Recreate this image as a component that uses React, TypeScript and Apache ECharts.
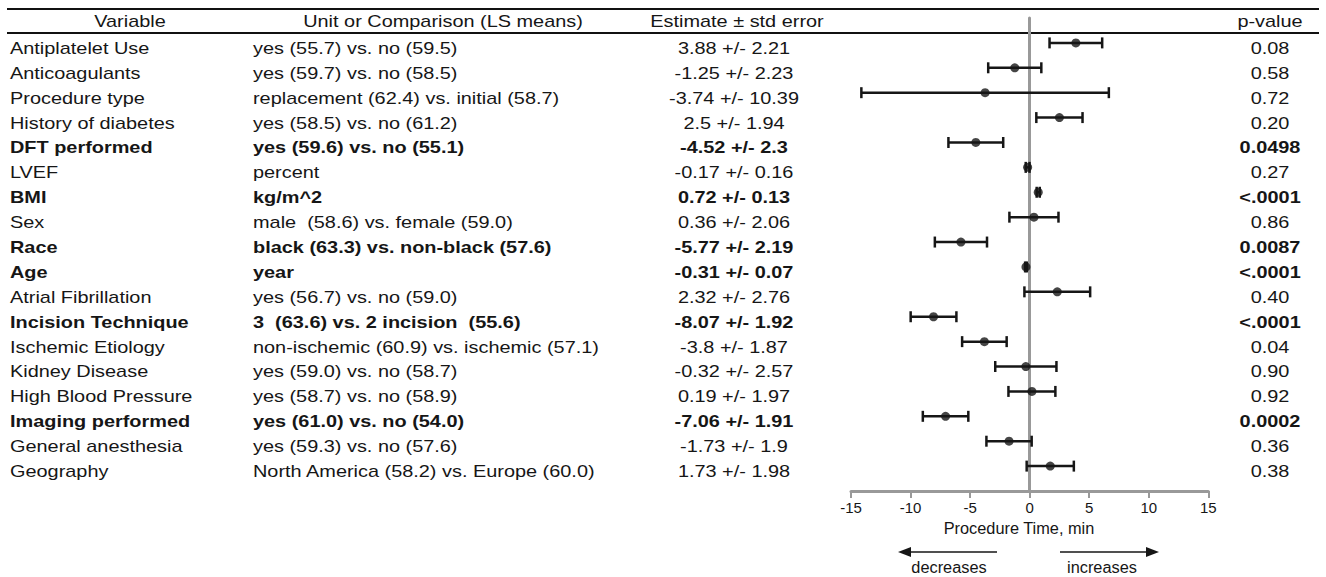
import React, { useEffect, useRef } from "react";
import * as echarts from "echarts";

const headers = ["Variable", "Unit or Comparison (LS means)", "Estimate ± std error", "p-value"];

const variables = [
  "Antiplatelet Use",
  "Anticoagulants",
  "Procedure type",
  "History of diabetes",
  "DFT performed",
  "LVEF",
  "BMI",
  "Sex",
  "Race",
  "Age",
  "Atrial Fibrillation",
  "Incision Technique",
  "Ischemic Etiology",
  "Kidney Disease",
  "High Blood Pressure",
  "Imaging performed",
  "General anesthesia",
  "Geography",
];

const comparisons = [
  "yes (55.7) vs. no (59.5)",
  "yes (59.7) vs. no (58.5)",
  "replacement (62.4) vs. initial (58.7)",
  "yes (58.5) vs. no (61.2)",
  "yes (59.6) vs. no (55.1)",
  "percent",
  "kg/m^2",
  "male  (58.6) vs. female (59.0)",
  "black (63.3) vs. non-black (57.6)",
  "year",
  "yes (56.7) vs. no (59.0)",
  "3  (63.6) vs. 2 incision  (55.6)",
  "non-ischemic (60.9) vs. ischemic (57.1)",
  "yes (59.0) vs. no (58.7)",
  "yes (58.7) vs. no (58.9)",
  "yes (61.0) vs. no (54.0)",
  "yes (59.3) vs. no (57.6)",
  "North America (58.2) vs. Europe (60.0)",
];

const estimates = [3.88, -1.25, -3.74, 2.5, -4.52, -0.17, 0.72, 0.36, -5.77, -0.31, 2.32, -8.07, -3.8, -0.32, 0.19, -7.06, -1.73, 1.73];
const stdErrors = [2.21, 2.23, 10.39, 1.94, 2.3, 0.16, 0.13, 2.06, 2.19, 0.07, 2.76, 1.92, 1.87, 2.57, 1.97, 1.91, 1.9, 1.98];
const pValues = ["0.08", "0.58", "0.72", "0.20", "0.0498", "0.27", "<.0001", "0.86", "0.0087", "<.0001", "0.40", "<.0001", "0.04", "0.90", "0.92", "0.0002", "0.36", "0.38"];
const significant = [false, false, false, false, true, false, true, false, true, true, false, true, false, false, false, true, false, false];

const xMin = -15;
const xMax = 15;
const xInterval = 5;
const axisTitle = "Procedure Time, min";
const directionLabels = ["decreases", "increases"];

const FONT = "'Liberation Sans', Arial, Helvetica, sans-serif";
const INK = "#161616";
const GRAY = "#999999";
const STRETCH = 1.17;

function txt(text: string, x: number, y: number, size: number, bold: boolean, align: string, sx = STRETCH) {
  return {
    type: "text",
    x,
    y,
    scaleX: sx,
    silent: true,
    style: {
      text,
      fill: INK,
      font: `${bold ? "bold " : ""}${size}px ${FONT}`,
      textAlign: align,
      textVerticalAlign: "middle",
    },
  };
}

export default function App() {
  const ref = useRef<HTMLDivElement>(null);

  useEffect(() => {
    document.body.style.margin = "0";
    if (!ref.current) return;
    const chart = echarts.init(ref.current, undefined, { renderer: "svg" });

    const rows = variables.map((_, i) => i);

    const option: any = {
      animation: false,
      backgroundColor: "#ffffff",
      grid: { left: 851, width: 357.3, top: 18, height: 473 },
      xAxis: {
        type: "value",
        min: xMin,
        max: xMax,
        interval: xInterval,
        axisLine: { show: true, onZero: false, lineStyle: { color: GRAY, width: 3 } },
        axisTick: { show: true, length: 7, lineStyle: { color: GRAY, width: 2 } },
        axisLabel: { color: INK, fontSize: 15, fontFamily: FONT, margin: 9 },
        splitLine: { show: false },
      },
      yAxis: {
        type: "value",
        min: -1,
        max: 18,
        inverse: true,
        axisLine: { show: true, onZero: true, lineStyle: { color: GRAY, width: 3 } },
        axisTick: { show: false },
        axisLabel: { show: false },
        splitLine: { show: false },
      },
      series: [
        {
          type: "custom",
          name: "errorbars",
          clip: false,
          silent: true,
          encode: { x: [0, 1], y: 2 },
          data: rows.map((i) => [estimates[i] - stdErrors[i], estimates[i] + stdErrors[i], i]),
          renderItem: (params: any, api: any) => {
            const lo = api.coord([api.value(0), api.value(2)]);
            const hi = api.coord([api.value(1), api.value(2)]);
            const y = lo[1];
            const cap = 5.5;
            const st = { stroke: INK, lineWidth: 2.5, fill: "none" };
            return {
              type: "group",
              children: [
                { type: "line", shape: { x1: lo[0], y1: y, x2: hi[0], y2: y }, style: st },
                { type: "line", shape: { x1: lo[0], y1: y - cap, x2: lo[0], y2: y + cap }, style: st },
                { type: "line", shape: { x1: hi[0], y1: y - cap, x2: hi[0], y2: y + cap }, style: st },
              ],
            };
          },
        },
        {
          type: "scatter",
          name: "estimates",
          silent: true,
          symbol: "circle",
          symbolSize: 9,
          itemStyle: { color: INK },
          data: rows.map((i) => [estimates[i], i]),
          z: 5,
        },
        {
          type: "custom",
          name: "table",
          clip: false,
          silent: true,
          encode: { x: 0, y: 1 },
          data: rows.map((i) => [0, i]),
          renderItem: (params: any, api: any) => {
            const i = params.dataIndex;
            const y = api.coord([0, api.value(1)])[1] + 5;
            const b = significant[i];
            return {
              type: "group",
              children: [
                txt(variables[i], 10, y, 17, b, "left"),
                txt(comparisons[i], 253, y, 17, b, "left"),
                txt(`${estimates[i]} +/- ${stdErrors[i]}`, 734, y, 17, b, "center"),
                txt(pValues[i], 1270, y, 17, b, "center"),
              ],
            };
          },
        },
      ],
      graphic: [
        { type: "line", silent: true, shape: { x1: 7, y1: 9, x2: 1319, y2: 9 }, style: { stroke: "#111", lineWidth: 2 } },
        { type: "line", silent: true, shape: { x1: 7, y1: 33, x2: 1319, y2: 33 }, style: { stroke: "#111", lineWidth: 2 } },
        txt(headers[0], 130, 21, 17, false, "center"),
        txt(headers[1], 443, 21, 17, false, "center"),
        txt(headers[2], 737, 21, 17, false, "center"),
        txt(headers[3], 1270, 21, 17, false, "center"),
        txt(axisTitle, 1019, 528, 16, false, "center", 1.02),
        { type: "line", silent: true, shape: { x1: 997, y1: 552, x2: 909, y2: 552 }, style: { stroke: INK, lineWidth: 1.5 } },
        { type: "polygon", silent: true, shape: { points: [[898, 552], [911, 547], [911, 557]] }, style: { fill: INK } },
        { type: "line", silent: true, shape: { x1: 1060, y1: 552, x2: 1148, y2: 552 }, style: { stroke: INK, lineWidth: 1.5 } },
        { type: "polygon", silent: true, shape: { points: [[1159, 552], [1146, 547], [1146, 557]] }, style: { fill: INK } },
        txt(directionLabels[0], 949, 567, 16, false, "center", 1.02),
        txt(directionLabels[1], 1102, 567, 16, false, "center", 1.02),
      ],
    };

    chart.setOption(option);
    return () => chart.dispose();
  }, []);

  return <div ref={ref} style={{ width: 1326, height: 577 }} />;
}
